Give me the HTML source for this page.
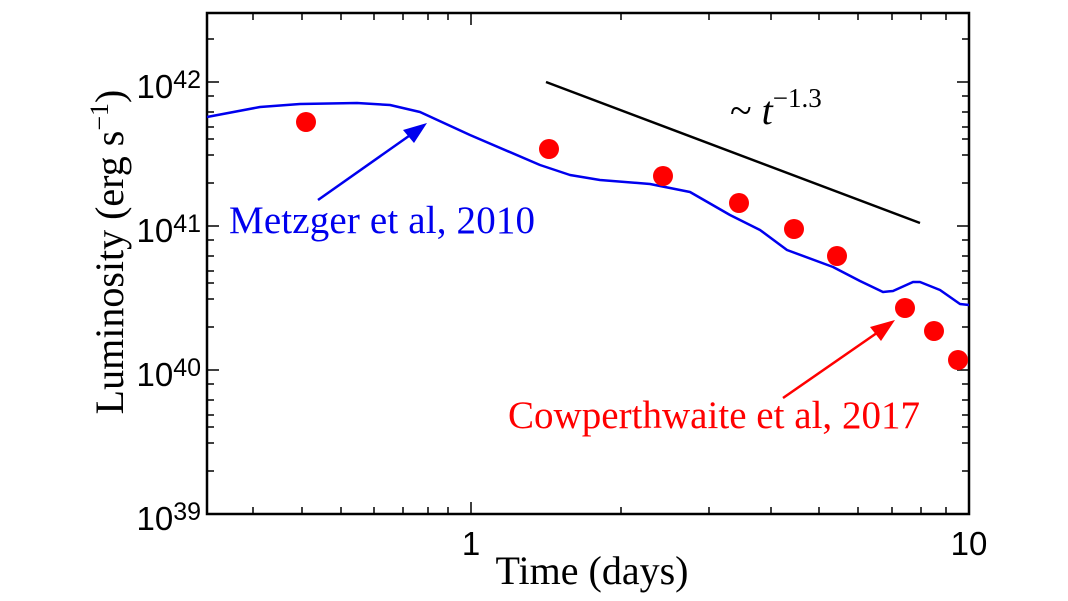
<!DOCTYPE html>
<html><head><meta charset="utf-8"><style>
html,body{margin:0;padding:0;background:#fff;}
svg{display:block;}
</style></head><body>
<svg width="1068" height="601" viewBox="0 0 1068 601" xmlns="http://www.w3.org/2000/svg">
<g stroke="#000" stroke-width="1.5" fill="none">
<path d="
M471,514 v-12 M471,13 v12
M207,82 h12 M969,82 h-12 M207,226 h12 M969,226 h-12 M207,370 h12 M969,370 h-12
M253,514 v-7 M253,13 v7 M302,514 v-7 M302,13 v7 M341,514 v-7 M341,13 v7 M374,514 v-7 M374,13 v7 M403,514 v-7 M403,13 v7 M428,514 v-7 M428,13 v7 M448,514 v-7 M448,13 v7
M621,514 v-7 M621,13 v7 M709,514 v-7 M709,13 v7 M771,514 v-7 M771,13 v7 M819,514 v-7 M819,13 v7 M858,514 v-7 M858,13 v7 M892,514 v-7 M892,13 v7 M921,514 v-7 M921,13 v7 M946,514 v-7 M946,13 v7
M207,39 h7 M969,39 h-7
M207,96 h7 M969,96 h-7 M207,112 h7 M969,112 h-7 M207,127 h7 M969,127 h-7 M207,139 h7 M969,139 h-7 M207,155 h7 M969,155 h-7 M207,183 h7 M969,183 h-7
M207,240 h7 M969,240 h-7 M207,256 h7 M969,256 h-7 M207,271 h7 M969,271 h-7 M207,283 h7 M969,283 h-7 M207,299 h7 M969,299 h-7 M207,327 h7 M969,327 h-7
M207,384 h7 M969,384 h-7 M207,400 h7 M969,400 h-7 M207,415 h7 M969,415 h-7 M207,427 h7 M969,427 h-7 M207,443 h7 M969,443 h-7 M207,471 h7 M969,471 h-7
"/>
</g>
<rect x="207" y="13" width="762" height="501" fill="none" stroke="#000" stroke-width="2.5"/>
<polyline fill="none" stroke="#0000ee" stroke-width="2.5" stroke-linejoin="round" points="207,117 260,107 300,104 357,103 390,105 420,112 470,135 540,165 570,175 600,180 650,184 690,192 730,215 760,230 787,250 833,267 860,281 883,292 893,291 913,282 920,282 940,290 960,304 969,305"/>
<line x1="546" y1="82" x2="920" y2="223" stroke="#000" stroke-width="2.5"/>
<g fill="#ff0000">
<circle cx="306" cy="122" r="10"/><circle cx="549" cy="149" r="10"/><circle cx="663" cy="176" r="10"/><circle cx="739" cy="203" r="10"/><circle cx="794" cy="229" r="10"/><circle cx="837" cy="256" r="10"/><circle cx="905" cy="308" r="10"/><circle cx="934" cy="331" r="10"/><circle cx="958" cy="360" r="10"/>
</g>
<line x1="318" y1="200" x2="416" y2="131" stroke="#0000ee" stroke-width="2.5"/>
<polygon points="427,123 403,130 414,143" fill="#0000ee"/>
<line x1="783" y1="398" x2="884" y2="328" stroke="#ff0000" stroke-width="2.5"/>
<polygon points="895,320 870,327 881,341" fill="#ff0000"/>
<g font-family="Liberation Serif, serif">
<text x="229" y="233" font-size="39" fill="#0000ee" textLength="306">Metzger et al, 2010</text>
<text x="508" y="428" font-size="39" fill="#ff0000" textLength="412">Cowperthwaite et al, 2017</text>
<text x="730" y="124" font-size="40" fill="#000">~ <tspan font-style="italic">t</tspan><tspan font-size="27" dy="-17">−1.3</tspan></text>
<text x="592" y="584" font-size="40" text-anchor="middle">Time (days)</text>
<text transform="translate(123,252) rotate(-90)" font-size="40" text-anchor="middle">Luminosity (erg s<tspan font-size="26" dy="-15">−1</tspan><tspan dy="15">)</tspan></text>
</g>
<g font-family="Liberation Sans, sans-serif" font-size="33" fill="#000">
<text x="471" y="555" text-anchor="middle">1</text>
<text x="969" y="555" text-anchor="middle">10</text>
<text x="201" y="98" text-anchor="end">10<tspan font-size="25" dy="-10">42</tspan></text>
<text x="201" y="242" text-anchor="end">10<tspan font-size="25" dy="-10">41</tspan></text>
<text x="201" y="386" text-anchor="end">10<tspan font-size="25" dy="-10">40</tspan></text>
<text x="201" y="530" text-anchor="end">10<tspan font-size="25" dy="-10">39</tspan></text>
</g>
</svg>
</body></html>
